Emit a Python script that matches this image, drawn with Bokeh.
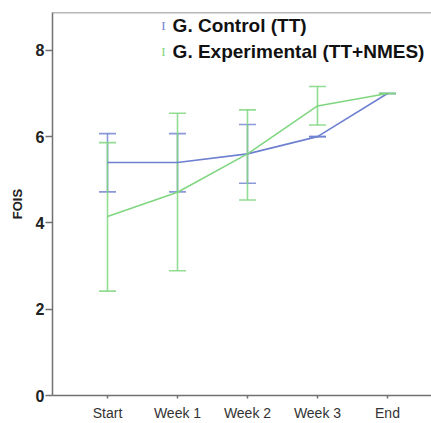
from bokeh.plotting import figure
from bokeh.models import ColumnDataSource, Whisker, TeeHead, Range1d, FixedTicker, Span, Label
from bokeh.embed import file_html
from bokeh.resources import INLINE

# ---- data ----
timepoints = ["Start", "Week 1", "Week 2", "Week 3", "End"]
control_mean = [5.40, 5.40, 5.60, 6.00, 7.00]
control_low = [4.72, 4.72, 4.92, 6.00, 7.00]
control_high = [6.07, 6.07, 6.28, 6.00, 7.00]
exp_mean = [4.15, 4.71, 5.60, 6.71, 7.00]
exp_low = [2.42, 2.89, 4.53, 6.27, 7.00]
exp_high = [5.86, 6.54, 6.62, 7.16, 7.00]
y_ticks = [0, 2, 4, 6, 8]
legend_labels = ["G. Control (TT)", "G. Experimental (TT+NMES)"]

BLUE = "#6e80d0"
GREEN = "#80d680"
AXIS = "#707070"

xs = list(range(len(timepoints)))

p = figure(width=431, height=423, output_backend="svg", toolbar_location=None,
           x_range=Range1d(-0.786, 4.629), y_range=Range1d(0, 8.876),
           min_border_left=52, min_border_right=0, min_border_top=12, min_border_bottom=26)
p.outline_line_color = None
p.grid.visible = False
p.background_fill_color = "white"
p.border_fill_color = "white"

src_c = ColumnDataSource(dict(x=xs, m=control_mean, lo=control_low, hi=control_high))
src_e = ColumnDataSource(dict(x=xs, m=exp_mean, lo=exp_low, hi=exp_high))

for src, col, a in ((src_c, BLUE, 0.8), (src_e, GREEN, 0.85)):
    w = Whisker(base="x", lower="lo", upper="hi", source=src,
                line_color=col, line_width=1.6, line_alpha=a,
                upper_head=TeeHead(size=17, line_color=col, line_width=1.6, line_alpha=a),
                lower_head=TeeHead(size=17, line_color=col, line_width=1.6, line_alpha=a))
    p.add_layout(w)

p.line("x", "m", source=src_c, line_color=BLUE, line_width=1.6)
p.line("x", "m", source=src_e, line_color=GREEN, line_width=1.6)

# top frame line
p.add_layout(Span(location=8.876, dimension="width", line_color=AXIS, line_width=1.5))

# axes
p.xaxis.ticker = FixedTicker(ticks=xs)
p.xaxis.major_label_overrides = {i: t for i, t in enumerate(timepoints)}
p.xaxis.major_tick_in = 0
p.xaxis.major_tick_out = 3
p.xaxis.minor_tick_line_color = None
p.xaxis.major_label_standoff = 6
p.xaxis.major_label_text_font = "Liberation Sans"
p.xaxis.major_label_text_font_size = "14px"
p.xaxis.major_label_text_color = "#333333"
p.xaxis.axis_line_color = AXIS
p.xaxis.axis_line_width = 1.5
p.xaxis.major_tick_line_color = AXIS
p.xaxis.major_tick_line_width = 1.5

p.yaxis.ticker = FixedTicker(ticks=y_ticks)
p.yaxis.major_tick_in = 0
p.yaxis.major_tick_out = 7
p.yaxis.minor_tick_line_color = None
p.yaxis.major_label_standoff = 1
p.yaxis.major_label_text_font = "Liberation Sans"
p.yaxis.major_label_text_font_style = "bold"
p.yaxis.major_label_text_font_size = "16px"
p.yaxis.major_label_text_color = "#222222"
p.yaxis.axis_line_color = AXIS
p.yaxis.axis_line_width = 1.5
p.yaxis.major_tick_line_color = AXIS
p.yaxis.major_tick_line_width = 1.5
p.yaxis.axis_label = "FOIS"
p.yaxis.axis_label_text_font = "Liberation Sans"
p.yaxis.axis_label_text_font_style = "bold"
p.yaxis.axis_label_text_font_size = "13px"
p.yaxis.axis_label_text_color = "#222222"
p.yaxis.axis_label_standoff = 8

# legend (manual)
leg_y = [8.57, 7.97]
for lbl, col, yy in zip(legend_labels, (BLUE, GREEN), leg_y):
    p.add_layout(Label(x=0.8, y=yy, text="I", text_font="Liberation Serif",
                       text_font_size="13px", text_color=col, text_align="center",
                       text_baseline="middle"))
    p.add_layout(Label(x=0.93, y=yy, text=lbl, text_font="Liberation Sans",
                       text_font_style="bold", text_font_size="19px", text_color="#111111",
                       text_align="left", text_baseline="middle"))

open("out.html", "w").write(file_html(p, INLINE))
